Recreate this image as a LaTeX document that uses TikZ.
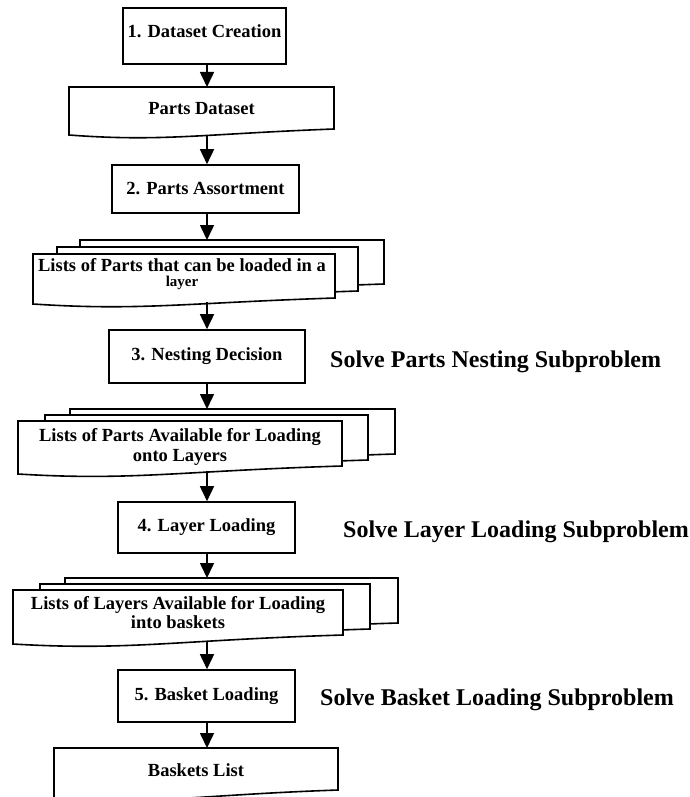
\documentclass[tikz,border=0pt]{standalone}
\usepackage{fontspec}
\setmainfont{Liberation Serif}
\usetikzlibrary{arrows.meta}
% document shape: x1, ytop, x2, y right bottom, y left bottom
\newcommand{\mydocshape}[5]{%
  \draw[docline] (#1,#2) -- (#3,#2) -- (#3,#4)
    .. controls ({#3-0.5*(#3-#1)},{#4+5}) and ({#1+0.35*(#3-#1)},{#5+7}) .. (#1,#5) -- cycle;}
\begin{document}
\begin{tikzpicture}[x=1pt,y=-1pt,
  procbox/.style={draw, line width=1.6pt, fill=white, inner sep=0pt,
    font=\bfseries\fontsize{18.5}{20}\selectfont, align=center},
  doctext/.style={inner sep=0pt, font=\bfseries\fontsize{18.5}{20}\selectfont, align=center},
  smalltext/.style={inner sep=0pt, font=\bfseries\fontsize{15}{17}\selectfont},
  sublabel/.style={inner sep=0pt, anchor=base west, font=\bfseries\fontsize{24}{28}\selectfont},
  arr/.style={line width=1.6pt, -{Triangle[length=15pt,width=14pt]}},
  docline/.style={draw, line width=1.6pt, fill=white, line join=miter}
]
\useasboundingbox (0,0) rectangle (690,797);

% 1. Dataset Creation
\node[procbox, minimum width=163pt, minimum height=56pt, text depth=10pt] (b1) at (204.5,36) {1. Dataset Creation};

% Parts Dataset
\mydocshape{69}{87}{334}{129}{135}
\node[doctext] (pd) at (201.5,109) {Parts Dataset};
\coordinate (pdb) at (207,134.5);

% 2. Parts Assortment
\node[procbox, minimum width=187pt, minimum height=48pt] (b2) at (205.5,189) {2. Parts Assortment};

% Stack A
\mydocshape{80}{240}{384}{284}{290}
\mydocshape{57}{247}{358}{291}{297}
\mydocshape{33}{254}{335}{298}{304}
\node[doctext] (la1) at (182,265) {Lists of Parts that can be loaded in a};
\node[smalltext] (la2) at (182,282.5) {layer};
\coordinate (lab) at (207,301.5);

% 3. Nesting Decision
\node[procbox, minimum width=196pt, minimum height=53pt] (b3) at (207,356.5) {3. Nesting Decision};

% Stack B
\mydocshape{70}{409}{395}{454}{461}
\mydocshape{45}{415}{368}{460}{467}
\mydocshape{18}{421}{342}{466}{474}
\node[doctext] (lb) at (180,446.5) {Lists of Parts Available for Loading\\onto Layers};
\coordinate (lbb) at (207,471);

% 4. Layer Loading
\node[procbox, minimum width=177pt, minimum height=51pt] (b4) at (206.5,527.5) {4. Layer Loading};

% Stack C
\mydocshape{65}{578}{398}{623}{631}
\mydocshape{40}{584}{370}{629}{637}
\mydocshape{13}{590}{343}{635}{644}
\node[doctext, font=\bfseries\fontsize{18.5}{19}\selectfont] (lc) at (178,613) {Lists of Layers Available for Loading\\into baskets};
\coordinate (lcb) at (207,640.5);

% 5. Basket Loading
\node[procbox, minimum width=177pt, minimum height=52pt] (b5) at (206.5,696) {5. Basket Loading};

% Baskets List
\mydocshape{54}{748}{338}{790}{798}
\node[doctext] (bl) at (196,770) {Baskets List};

% Subproblem labels
\node[sublabel] (s1) at (330,367) {Solve Parts Nesting Subproblem};
\node[sublabel] (s2) at (343,537) {Solve Layer Loading Subproblem};
\node[sublabel] (s3) at (320,705) {Solve Basket Loading Subproblem};

% connectors
\draw[arr] (b1.south -| 207,0) -- (207,87);
\draw[arr] (pdb) -- (b2.north -| pdb);
\draw[arr] (b2.south -| pdb) -- (207,240);
\draw[arr] (lab) -- (b3.north -| lab);
\draw[arr] (b3.south -| lab) -- (207,409);
\draw[arr] (lbb) -- (b4.north -| lbb);
\draw[arr] (b4.south -| lbb) -- (207,578);
\draw[arr] (lcb) -- (b5.north -| lcb);
\draw[arr] (b5.south -| lcb) -- (207,748);
\end{tikzpicture}
\end{document}
